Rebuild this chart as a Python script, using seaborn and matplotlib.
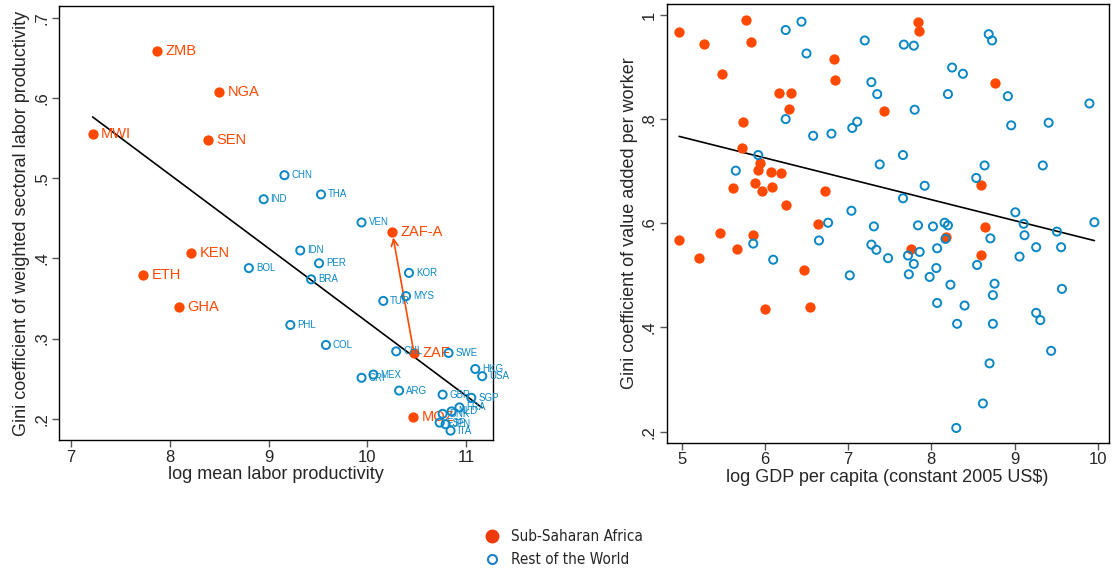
import numpy as np
import pandas as pd
import matplotlib
matplotlib.use('Agg')
import matplotlib.pyplot as plt
from matplotlib.lines import Line2D
import seaborn as sns

ORANGE = '#FF4800'
BLUE = '#0A87C4'

# ---- left panel: sectoral labor productivity ----
ssa_codes = ['ZMB', 'NGA', 'SEN', 'MWI', 'KEN', 'ETH', 'GHA', 'ZAF-A', 'ZAF', 'MOZ']
ssa_lp = [7.87, 8.50, 8.39, 7.22, 8.22, 7.73, 8.09, 10.25, 10.47, 10.46]
ssa_gini = [0.659, 0.608, 0.548, 0.555, 0.407, 0.379, 0.339, 0.433, 0.282, 0.202]

row_codes = ['CHN', 'IND', 'THA', 'VEN', 'IDN', 'PER', 'BOL', 'BRA', 'KOR', 'MYS',
             'TUR', 'PHL', 'COL', 'CHL', 'SWE', 'MEX', 'CRI', 'ARG', 'HKG', 'USA',
             'GBR', 'SGP', 'FRA', 'NLD', 'DNK', 'ESP', 'JPN', 'ITA']
row_lp = [9.16, 8.95, 9.53, 9.94, 9.32, 9.51, 8.80, 9.43, 10.42, 10.39,
          10.16, 9.22, 9.58, 10.29, 10.82, 10.06, 9.94, 10.32, 11.09, 11.16,
          10.76, 11.05, 10.93, 10.85, 10.76, 10.73, 10.79, 10.84]
row_gini = [0.504, 0.474, 0.480, 0.445, 0.410, 0.394, 0.388, 0.374, 0.382, 0.353,
            0.347, 0.317, 0.292, 0.284, 0.282, 0.255, 0.251, 0.235, 0.262, 0.253,
            0.230, 0.226, 0.214, 0.209, 0.206, 0.195, 0.193, 0.185]

# ---- right panel: value added per worker vs GDP ----
ssa_gdp = [4.97, 5.77, 5.27, 5.83, 5.48, 6.83, 6.84, 7.84, 7.85, 6.17,
           6.31, 6.29, 7.43, 8.76, 5.74, 5.72, 5.94, 5.92, 6.07, 6.19,
           5.88, 5.62, 5.96, 6.08, 6.72, 8.60, 6.25, 6.64, 8.65, 5.46,
           4.97, 5.21, 5.66, 5.86, 6.47, 6.00, 6.54, 7.76, 8.18, 8.60]
ssa_va = [0.968, 0.990, 0.945, 0.948, 0.887, 0.916, 0.875, 0.987, 0.970, 0.850,
          0.850, 0.820, 0.815, 0.869, 0.795, 0.744, 0.715, 0.702, 0.699, 0.697,
          0.677, 0.667, 0.662, 0.670, 0.662, 0.674, 0.636, 0.598, 0.592, 0.581,
          0.567, 0.533, 0.551, 0.577, 0.511, 0.436, 0.440, 0.551, 0.573, 0.540]

row_gdp = [6.44, 6.25, 6.50, 7.20, 7.67, 7.79, 8.69, 8.73, 8.25, 8.38,
           7.28, 7.35, 8.20, 8.92, 7.80, 9.90, 6.25, 7.11, 7.05, 6.58,
           6.80, 8.96, 9.41, 5.92, 5.65, 7.66, 7.38, 8.64, 9.34, 8.54,
           7.92, 7.66, 7.04, 9.01, 6.76, 7.31, 7.84, 8.02, 8.16, 8.20,
           9.11, 9.96, 9.51, 5.86, 6.65, 6.10, 7.28, 7.34, 7.48, 7.72,
           7.86, 7.79, 8.07, 8.17, 8.06, 7.98, 7.73, 7.02, 8.71, 8.55,
           8.76, 8.74, 9.12, 9.26, 9.06, 9.56, 9.57, 8.23, 8.07, 8.40,
           8.31, 8.74, 9.26, 9.31, 9.44, 8.70, 8.62, 8.30]
row_va = [0.987, 0.971, 0.926, 0.951, 0.943, 0.941, 0.963, 0.951, 0.899, 0.887,
          0.871, 0.848, 0.848, 0.844, 0.818, 0.830, 0.800, 0.795, 0.783, 0.768,
          0.772, 0.788, 0.793, 0.731, 0.701, 0.731, 0.713, 0.711, 0.711, 0.687,
          0.672, 0.648, 0.624, 0.621, 0.601, 0.594, 0.596, 0.594, 0.601, 0.596,
          0.599, 0.602, 0.584, 0.561, 0.567, 0.530, 0.559, 0.549, 0.533, 0.538,
          0.545, 0.522, 0.552, 0.570, 0.514, 0.497, 0.502, 0.500, 0.571, 0.520,
          0.484, 0.462, 0.577, 0.554, 0.536, 0.554, 0.474, 0.482, 0.447, 0.442,
          0.407, 0.407, 0.428, 0.414, 0.355, 0.331, 0.254, 0.207]

sns.set_theme(style='white')
plt.rcParams['font.family'] = ['Liberation Sans', 'DejaVu Sans']

left = pd.DataFrame({'code': ssa_codes + row_codes,
                     'lp': ssa_lp + row_lp,
                     'gini': ssa_gini + row_gini,
                     'group': ['SSA'] * len(ssa_codes) + ['ROW'] * len(row_codes)})
right = pd.DataFrame({'gdp': ssa_gdp + row_gdp,
                      'va': ssa_va + row_va,
                      'group': ['SSA'] * len(ssa_gdp) + ['ROW'] * len(row_gdp)})

fig = plt.figure(figsize=(11.13, 5.71), dpi=100)
ax1 = fig.add_axes([0.053, 0.229, 0.390, 0.760])
ax2 = fig.add_axes([0.599, 0.225, 0.397, 0.768])

# left panel
fit_l = left[left['code'] != 'ZAF-A']
sns.regplot(data=fit_l, x='lp', y='gini', scatter=False, ci=None, ax=ax1,
            line_kws={'color': 'black', 'linewidth': 1.2})
row_l = left[left['group'] == 'ROW']
ssa_l = left[left['group'] == 'SSA']
sns.scatterplot(data=row_l, x='lp', y='gini', ax=ax1, s=34, marker='o',
                facecolors='none', edgecolor=BLUE, linewidth=1.4, zorder=4)
sns.scatterplot(data=ssa_l, x='lp', y='gini', ax=ax1, s=55, marker='o',
                color=ORANGE, edgecolor=ORANGE, linewidth=0, zorder=3)
for _, r in row_l.iterrows():
    ax1.annotate(r['code'], (r['lp'], r['gini']), xytext=(5, 0),
                 textcoords='offset points', va='center', ha='left',
                 fontsize=7, color=BLUE, zorder=4)
for _, r in ssa_l.iterrows():
    ax1.annotate(r['code'], (r['lp'], r['gini']), xytext=(6, 0),
                 textcoords='offset points', va='center', ha='left',
                 fontsize=10.5, color=ORANGE, zorder=3)
zaf = ssa_l[ssa_l['code'] == 'ZAF'].iloc[0]
zafa = ssa_l[ssa_l['code'] == 'ZAF-A'].iloc[0]
ax1.annotate('', xy=(zafa['lp'], zafa['gini']), xytext=(zaf['lp'], zaf['gini']),
             arrowprops=dict(arrowstyle='->', color=ORANGE, lw=1.2,
                             shrinkA=0, shrinkB=4))
ax1.set_xlim(6.88, 11.27)
ax1.set_ylim(0.173, 0.715)
ax1.set_xticks([7, 8, 9, 10, 11])
ax1.set_yticks([0.2, 0.3, 0.4, 0.5, 0.6, 0.7])
ax1.set_yticklabels(['.2', '.3', '.4', '.5', '.6', '.7'], rotation=90, va='center')
ax1.set_xlabel('log mean labor productivity', fontsize=13, labelpad=1)
ax1.set_ylabel('Gini coefficient of weighted sectoral labor productivity', fontsize=13, labelpad=3)

# right panel
sns.regplot(data=right, x='gdp', y='va', scatter=False, ci=None, ax=ax2,
            line_kws={'color': 'black', 'linewidth': 1.2})
sns.scatterplot(data=right[right['group'] == 'ROW'], x='gdp', y='va', ax=ax2, s=34,
                marker='o', facecolors='none', edgecolor=BLUE, linewidth=1.4, zorder=4)
sns.scatterplot(data=right[right['group'] == 'SSA'], x='gdp', y='va', ax=ax2, s=55,
                marker='o', color=ORANGE, edgecolor=ORANGE, linewidth=0, zorder=3)
ax2.set_xlim(4.82, 10.13)
ax2.set_ylim(0.179, 1.021)
ax2.set_xticks([5, 6, 7, 8, 9, 10])
ax2.set_yticks([0.2, 0.4, 0.6, 0.8, 1.0])
ax2.set_yticklabels(['.2', '.4', '.6', '.8', '1'], rotation=90, va='center')
ax2.set_xlabel('log GDP per capita (constant 2005 US$)', fontsize=13, labelpad=1)
ax2.set_ylabel('Gini coefficient of value added per worker', fontsize=13, labelpad=3)

for ax in (ax1, ax2):
    for sp in ax.spines.values():
        sp.set_color('black')
        sp.set_linewidth(1.0)
    ax.tick_params(axis='both', which='major', direction='out', length=5,
                   width=1, color='#555555', labelsize=12, pad=2,
                   bottom=True, left=True)
    ax.grid(False)

handles = [Line2D([], [], marker='o', linestyle='none', markersize=9,
                  markerfacecolor='#EE3A0A', markeredgecolor='#EE3A0A'),
           Line2D([], [], marker='o', linestyle='none', markersize=6.5,
                  markerfacecolor='none', markeredgecolor='#1F7FC9', markeredgewidth=1.5)]
fig.legend(handles, ['Sub-Saharan Africa', 'Rest of the World'], loc='center',
           bbox_to_anchor=(0.503, 0.04), frameon=False, handletextpad=0.3,
           labelspacing=0.5, prop={'family': ['Liberation Sans Narrow', 'DejaVu Sans'],
                                   'stretch': 'condensed', 'size': 11})

fig.savefig('out.png', dpi=100)
